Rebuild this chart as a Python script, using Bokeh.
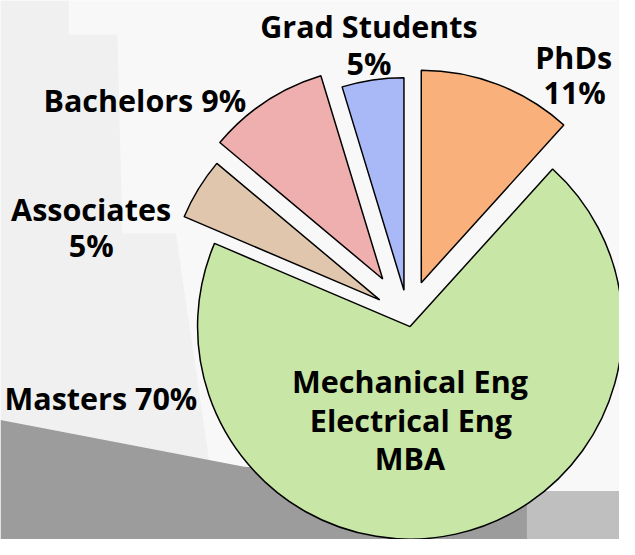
import math
from bokeh.plotting import figure
from bokeh.models import Range1d, PolyAnnotation, ColumnDataSource
from bokeh.core.properties import value
from bokeh.embed import file_html
from bokeh.resources import INLINE

# ---- data ----
categories = ["PhDs", "Masters", "Associates", "Bachelors", "Grad Students"]
shares = [11.7, 69.7, 4.7, 9.2, 4.7]
pct_labels = ["11%", "70%", "5%", "9%", "5%"]
masters_fields = ["Mechanical Eng", "Electrical Eng", "MBA"]

# ---- style ----
colors = ["#f9b07a", "#c8e6a6", "#dfc6ad", "#efafaf", "#a9b9f7"]
explode = [38, 10, 34, 47, 28]
W, H = 635, 555
M = 8
CX, CY = 418, 555 - 326
R = 218
FONT = "Open Sans"
FS = "30.5px"

p = figure(width=W - 2 * M, height=H - 2 * M, output_backend="svg",
           toolbar_location=None, x_range=Range1d(0, W), y_range=Range1d(0, H),
           x_axis_type=None, y_axis_type=None, min_border=0,
           background_fill_color="#f8f8f8", border_fill_color="#f8f8f8")
p.grid.visible = False
p.outline_line_color = None

# backdrop (slide background)
def ref(pts):
    return [x for x, y in pts], [H - y for x, y in pts]

for pts, col in [
    ([(0, 0), (70, 0), (70, 35), (120, 35), (125, 240), (180, 240), (215, 480), (0, 480)], "#f0f0f0"),
    ([(0, 432), (250, 480), (560, 505), (635, 505), (635, 555), (0, 555)], "#9c9c9c"),
    ([(540, 505), (635, 505), (635, 555), (540, 555)], "#bfbfbf"),
]:
    xs, ys = ref(pts)
    p.add_layout(PolyAnnotation(xs=xs, ys=ys, fill_color=col, fill_alpha=1, line_color=None, level="underlay"))

# wedges
total = sum(shares)
xs, ys, sa, ea = [], [], [], []
acc = 0.0
for s, e in zip(shares, explode):
    t1 = acc / total * 360.0
    t2 = (acc + s) / total * 360.0
    acc += s
    bis = math.radians((t1 + t2) / 2)
    xs.append(CX + e * math.sin(bis))
    ys.append(CY + e * math.cos(bis))
    sa.append(math.radians(90 - t1))
    ea.append(math.radians(90 - t2))

src = ColumnDataSource(dict(x=xs, y=ys, sa=sa, ea=ea, color=colors, cat=categories))
p.wedge(x="x", y="y", radius=R, start_angle="sa", end_angle="ea", direction="clock",
        fill_color="color", line_color="black", line_width=1.5, source=src)

# labels (vertical centre of capitals, in reference pixels)
lab_text = [
    categories[4], pct_labels[4],
    categories[0], pct_labels[0],
    f"{categories[3]} {pct_labels[3]}",
    categories[2], pct_labels[2],
    f"{categories[1]} {pct_labels[1]}",
] + masters_fields
lab_pos = [(378, 26), (378, 64), (588, 58), (589, 94), (148, 102),
           (93, 215), (93, 252), (103, 409), (420, 392), (421, 432), (420, 471)]
lsrc = ColumnDataSource(dict(x=[a for a, b in lab_pos], y=[H - b for a, b in lab_pos], t=lab_text))
p.text(x="x", y="y", text="t", source=lsrc, text_align="center", text_baseline="middle",
       text_font=value(FONT), text_font_style="bold", text_font_size=FS, text_color="black")

open("out.html", "w").write(file_html(p, INLINE))
